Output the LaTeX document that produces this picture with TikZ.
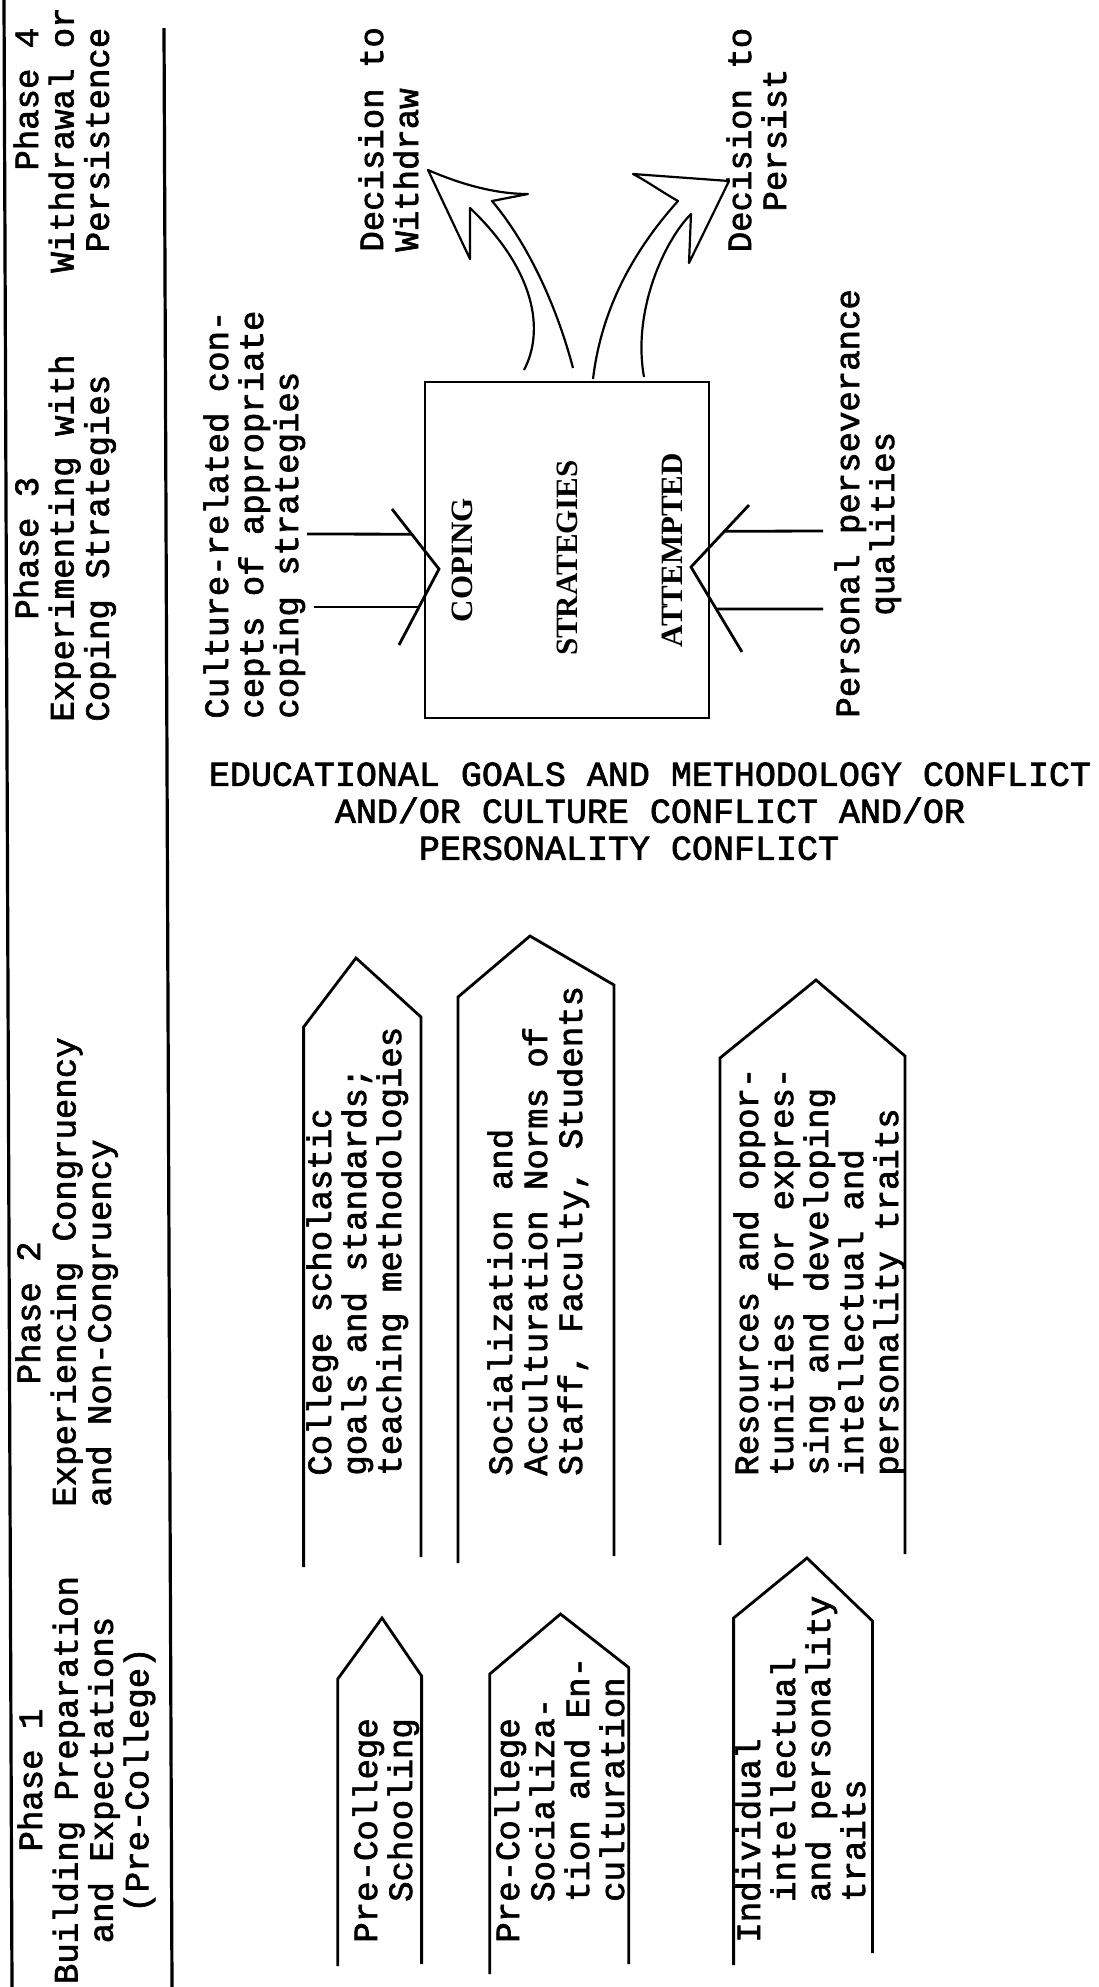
\documentclass[tikz,border=0pt]{standalone}
\usepackage{fontspec}
\setmainfont{Liberation Serif}
\newfontfamily\typer{Liberation Mono}[FakeBold=2]
\newfontfamily\capser{Liberation Serif Bold}
\usetikzlibrary{calc}

\newcommand{\twsize}{\typer\fontsize{17}{17.5}\selectfont}
\newcommand{\hdsize}{\typer\fontsize{17}{17.7}\selectfont}
\newcommand{\cfsize}{\typer\fontsize{17.5}{18.5}\selectfont}
\newcommand{\bxsize}{\capser\fontsize{15.5}{18}\selectfont}
\newcommand{\ind}[1]{\phantom{#1}}

\begin{document}
\begin{tikzpicture}[
    x=0.5pt, y=-0.5pt,
    phaserule/.style={line width=1.6pt},
    postline/.style={line width=1.4pt, line join=miter},
    outcome/.style={line width=1.1pt, line join=round},
    vtext/.style={rotate=90, inner sep=0pt, font=\twsize, align=left, anchor=north west},
    vhead/.style={rotate=90, inner sep=0pt, font=\hdsize, align=left, anchor=north west},
    boxword/.style={rotate=90, inner sep=0pt, font=\bxsize}
]
\useasboundingbox (0,0) rectangle (1098,1987);

% phase column
\draw[phaserule] (4,0) -- (12,1987);
\draw[phaserule] (164,28) -- (172,1987);
\node[vhead] (phfour) at (13,273) {\ind{xxxxx}Phase 4\\Withdrawal or\\\ind{x}Persistence};
\node[vhead] (phthree) at (13,722) {\ind{xxxxx}Phase 3\\Experimenting with\\Coping Strategies};
\node[vhead] (phtwo) at (15,1507) {\ind{xxxxxx}Phase 2\\Experiencing Congruency\\and Non-Congruency};
\node[vhead, align=center, anchor=north] (phone) at (17,1780) {Phase 1\\Building Preparation\\and Expectations\\(Pre-College)};

% coping box
\node[draw, postline, minimum width=142pt, minimum height=168pt, inner sep=0pt] (trybox) at (567,550) {};
\node[boxword] (coping) at (462,560) {COPING};
\node[boxword] (strat) at (567,558) {STRATEGIES};
\node[boxword] (attempt) at (672,550) {ATTEMPTED};

% what feeds the box
\node[vtext] (culture) at (203,719) {Culture-related con-\\cepts of appropriate\\coping strategies};
\node[vtext] (persev) at (834,718) {Personal perseverance\\\ind{xxxxx}qualities};

\coordinate (cvLa) at (392,509);
\coordinate (cvLtip) at (439,569);
\coordinate (cvLb) at (399,645);
\coordinate (cvRa) at (749,505);
\coordinate (cvRtip) at (691,567);
\coordinate (cvRb) at (742,652);
\draw[postline] (cvLa) -- (cvLtip) -- (cvLb);
\draw[postline] (cvRa) -- (cvRtip) -- (cvRb);

\coordinate (inLa) at (307,534);
\coordinate (inLb) at (314,607);
\coordinate (inRa) at (823,531);
\coordinate (inRb) at (823,609);
\draw[postline] (inLa) -- ($(cvLa)!0.42!(cvLtip)$);
\draw[postline] (inLb) -- ($(cvLtip)!0.5!(cvLb)$);
\draw[postline] (inRa) -- ($(cvRa)!0.424!(cvRtip)$);
\draw[postline] (inRb) -- ($(cvRtip)!0.494!(cvRb)$);

% the two decisions
\node[vtext] (withdraw) at (358,252) {Decision to\\Withdraw};
\node[vtext, align=center, anchor=north] (persist) at (726,140) {Decision to\\Persist};

\coordinate (wtip) at (428,170);
\coordinate (ptip) at (729,181);
\draw[outcome] (524,370) .. controls (545,330) and (535,270) .. (470,208)
    -- (470,259) -- (wtip)
    .. controls (460,184) and (495,194) .. (528,194)
    -- (492,201)
    .. controls (525,240) and (555,300) .. (573,368);
\draw[outcome] (593,379) .. controls (600,320) and (625,260) .. (678,201)
    .. controls (662,192) and (645,180) .. (633,174)
    -- (ptip) -- (689,263) -- (691,214)
    .. controls (665,240) and (632,310) .. (644,377);

% conflict caption
\node[font=\cfsize, align=center, inner sep=0pt, anchor=north] (conflict) at (650,762)
    {EDUCATIONAL GOALS AND METHODOLOGY CONFLICT\\AND/OR CULTURE CONFLICT AND/OR\\PERSONALITY CONFLICT\ind{xx}};

% phase 2 posts
\draw[postline] (303.6,1567) -- (303.6,1027) -- (356,958) -- (421,1017) -- (421,1557);
\draw[postline] (458,1563) -- (458,997) -- (530,936) -- (614,985) -- (614,1556);
\draw[postline] (720,1545) -- (720,1058) -- (816,980) -- (905,1056) -- (905,1554);
\node[vtext] (college) at (306,1476) {College scholastic\\goals and standards;\\teaching methodologies};
\node[vtext] (socnorm) at (487,1476) {Socialization and\\Acculturation Norms of\\Staff, Faculty, Students};
\node[vtext] (resource) at (733,1476) {Resources and oppor-\\tunities for expres-\\sing and developing\\intellectual and\\personality traits};

% phase 1 posts
\draw[postline] (337.7,1966) -- (337.7,1679) -- (382,1618) -- (421.6,1676) -- (421.6,1964);
\draw[postline] (489.8,1974) -- (489.8,1674) -- (560.5,1614) -- (628.7,1667.5) -- (628.7,1964);
\draw[postline] (733.6,1965) -- (733.6,1618) -- (807,1558) -- (872.5,1621) -- (872.5,1953);
\node[vtext] (preschool) at (352,1943) {Pre-College\\\ind{xx}Schooling};
\node[vtext] (presocial) at (494,1943) {Pre-College\\\ind{xx}Socializa-\\\ind{xx}tion and En-\\\ind{xx}culturation};
\node[vtext] (individual) at (735,1943) {Individual\\\ind{xx}intellectual\\\ind{xx}and personality\\\ind{xx}traits};
\end{tikzpicture}
\end{document}
